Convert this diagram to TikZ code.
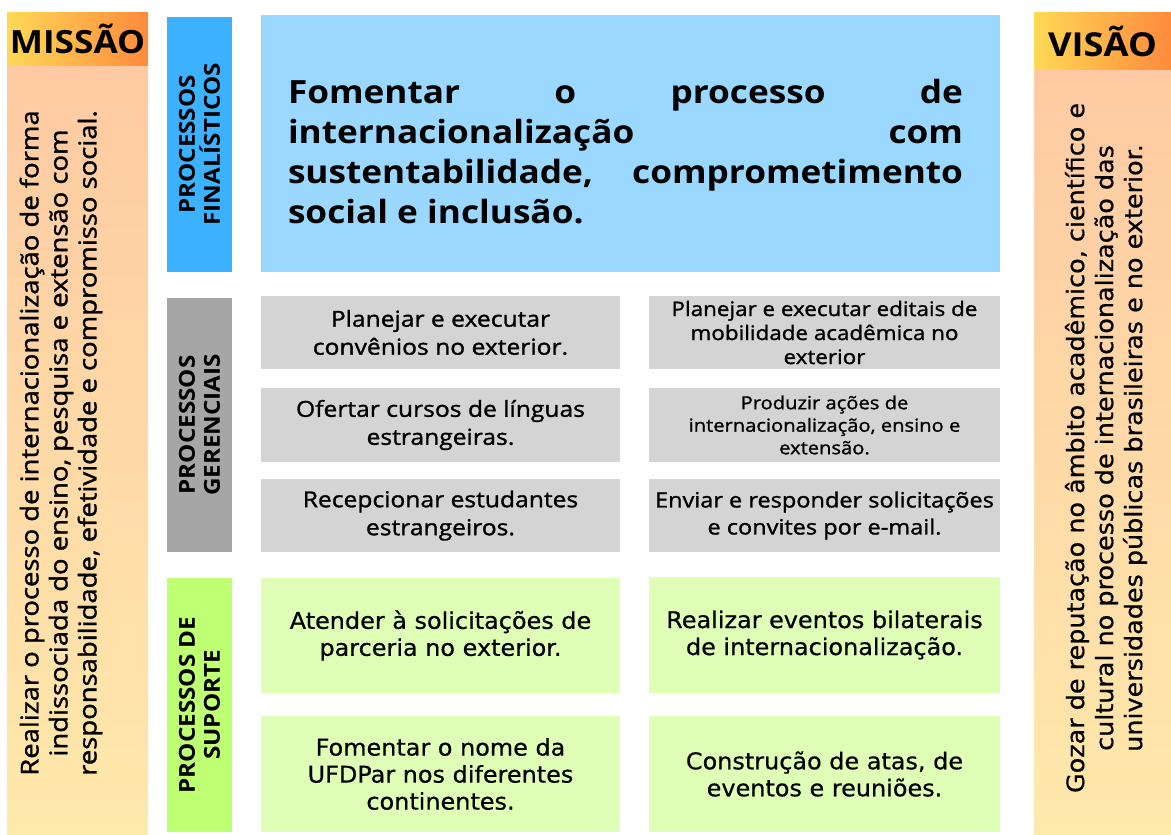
\documentclass[tikz,border=0pt]{standalone}
\usepackage{fontspec}
\setmainfont{Open Sans}
\newfontfamily\widefont{Open Sans}[FakeStretch=1.1]
\newfontfamily\semifont{Open Sans}[FakeBold=1.3,FakeStretch=1.12]
\newfontfamily\condfont{DejaVu Sans}[FakeStretch=1.04,FakeBold=0.6]
\newfontfamily\visfont{DejaVu Sans}[FakeStretch=1.06,FakeBold=0.6]
\definecolor{headL}{HTML}{FFD955}
\definecolor{headR}{HTML}{FF8A3D}
\definecolor{bodyT}{HTML}{FFCAA3}
\definecolor{bodyB}{HTML}{FFE9AB}
\definecolor{pfblue}{HTML}{3CB1FF}
\definecolor{mainblue}{HTML}{9BD8FF}
\definecolor{pggray}{HTML}{A6A6A6}
\definecolor{graybox}{HTML}{D4D4D4}
\definecolor{psgreen}{HTML}{BFFF73}
\definecolor{greenbox}{HTML}{DFFFB7}
\begin{document}
\begin{tikzpicture}[x=1pt,y=-1pt,
  base/.style={rectangle, inner sep=0pt, draw=none},
  header/.style={base, left color=headL, right color=headR},
  colbody/.style={base, top color=bodyT, bottom color=bodyB},
  plabel/.style={base, rotate=90, align=center, font=\widefont\bfseries\fontsize{22}{25}\selectfont},
  gbox/.style={base, fill=graybox, align=center},
  grbox/.style={base, fill=greenbox, align=center, font=\condfont\fontsize{23}{27}\selectfont},
  gtext/.style={font=\semifont\fontsize{22}{28}\selectfont},
  vtext/.style={rotate=90, align=center, inner sep=0pt}
]
\useasboundingbox (0,0) rectangle (1171,835);
% Missao column
\node[header, font=\widefont\bfseries\fontsize{32}{36}\selectfont, minimum width=141pt, minimum height=54pt] (mhead) at (77.5,39) {MISSÃO};
\node[colbody, minimum width=141pt, minimum height=769pt] (mbody) at (77.5,450.5) {};
\node[vtext, font=\semifont\fontsize{24.5}{29}\selectfont] (mtext) at (61,443)
  {Realizar o processo de internacionalização de forma\\indissociada do ensino, pesquisa e extensão com\\responsabilidade, efetividade e compromisso social.};
% Visao column
\node[header, font=\widefont\bfseries\fontsize{33}{36}\selectfont, minimum width=137pt, minimum height=58pt] (vhead) at (1102.5,41) {VISÃO};
\node[colbody, minimum width=137pt, minimum height=765pt] (vbody) at (1102.5,452.5) {};
\node[vtext, font=\visfont\fontsize{24}{29}\selectfont] (vtextn) at (1106,448)
  {Gozar de reputação no âmbito acadêmico, científico e\\cultural no processo de internacionalização das\\universidades públicas brasileiras e no exterior.};
% process labels
\node[plabel, fill=pfblue, minimum width=255pt, minimum height=65pt] (pf) at (199.5,144.5) {PROCESSOS\\FINALÍSTICOS};
\node[plabel, fill=pggray, minimum width=254pt, minimum height=65pt] (pg) at (199.5,425) {PROCESSOS\\GERENCIAIS};
\node[plabel, fill=psgreen, minimum width=254pt, minimum height=65pt] (ps) at (199.5,705) {PROCESSOS DE\\SUPORTE};
% main
\node[base, fill=mainblue, minimum width=739pt, minimum height=257pt] (main) at (630.5,143.5) {};
\node[text width=675pt, align=justify, inner sep=0pt, font=\widefont\bfseries\fontsize{32}{40}\selectfont] (maintext) at (625.5,152)
  {Fomentar o processo de\linebreak internacionalização com\linebreak sustentabilidade, comprometimento\linebreak social e inclusão.};
% gray boxes
\node[gbox, gtext, minimum width=359pt, minimum height=73pt] (g1) at (440.5,332.5) {Planejar e executar\\convênios no exterior.};
\node[gbox, gtext, minimum width=359pt, minimum height=74pt] (g2) at (440.5,425) {Ofertar cursos de línguas\\estrangeiras.};
\node[gbox, gtext, minimum width=359pt, minimum height=73pt] (g3) at (440.5,515.5) {Recepcionar estudantes\\estrangeiros.};
\node[gbox, font=\semifont\fontsize{20}{24}\selectfont, minimum width=351pt, minimum height=73pt] (g4) at (824.5,332.5) {Planejar e executar editais de\\mobilidade acadêmica no\\exterior};
\node[gbox, font=\semifont\fontsize{18}{22.5}\selectfont, minimum width=351pt, minimum height=74pt] (g5) at (824.5,425) {Produzir ações de\\internacionalização, ensino e\\extensão.};
\node[gbox, font=\semifont\fontsize{21}{27}\selectfont, minimum width=351pt, minimum height=73pt] (g6) at (824.5,515.5) {Enviar e responder solicitações\\e convites por e-mail.};
% green boxes
\node[grbox, minimum width=359pt, minimum height=115pt] (s1) at (440.5,635.5) {Atender à solicitações de\\parceria no exterior.};
\node[grbox, minimum width=351pt, minimum height=116pt] (s2) at (824.5,635) {Realizar eventos bilaterais\\de internacionalização.};
\node[grbox, minimum width=359pt, minimum height=116pt] (s3) at (440.5,774) {Fomentar o nome da\\UFDPar nos diferentes\\continentes.};
\node[grbox, minimum width=351pt, minimum height=116pt] (s4) at (824.5,774) {Construção de atas, de\\eventos e reuniões.};
\end{tikzpicture}
\end{document}
